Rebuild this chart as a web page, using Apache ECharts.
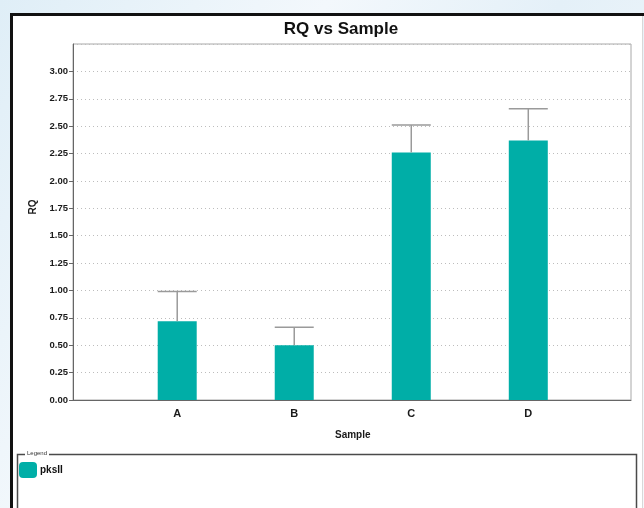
<!DOCTYPE html>
<html>
<head>
<meta charset="utf-8">
<script src="https://cdn.jsdelivr.net/npm/echarts@6/dist/echarts.min.js"></script>
<style>
html,body{margin:0;padding:0;}
body{width:644px;height:508px;background:linear-gradient(120deg,#dfeef7 0%,#f3f8fc 35%,#e4f0f8 60%,#f5f9fc 100%);overflow:hidden;}
#c{width:644px;height:508px;}
</style>
</head>
<body>
<div id="c"></div>
<script>
// ---- data ----
const categories = ['A', 'B', 'C', 'D'];
const rqValues = [0.72, 0.50, 2.26, 2.37];
const rqUpper = [0.99, 0.665, 2.51, 2.66];
const seriesName = 'pksII';
const yTickLabels = ['0.00','0.25','0.50','0.75','1.00','1.25','1.50','1.75','2.00','2.25','2.50','2.75','3.00'];

const teal = '#00AEA7';
const bold = {fontFamily: 'Liberation Sans, Arial, sans-serif', fontWeight: 'bold', color: '#1a1a1a'};

const chart = echarts.init(document.getElementById('c'), null, {renderer: 'canvas'});
chart.setOption({
  backgroundColor: 'transparent',
  animation: false,
  title: {
    text: 'RQ vs Sample', left: 336, top: 16, textAlign: 'center',
    textStyle: {fontFamily: 'Liberation Sans, Arial, sans-serif', fontWeight: 'bold', fontSize: 17, color: '#111'}
  },
  legend: {
    data: [seriesName], left: 14, top: 457, itemWidth: 18, itemHeight: 16, icon: 'roundRect', itemGap: 4,
    textStyle: Object.assign({}, bold, {fontSize: 10, color: '#111', padding: [0, 0, 0, -2]})
  },
  graphic: [
    {type: 'rect', z: -10, silent: true, shape: {x: 12, y: 15, width: 630, height: 500}, style: {fill: '#ffffff'}},
    {type: 'line', z: -5, silent: true, shape: {x1: 10, y1: 14.5, x2: 644, y2: 14.5}, style: {stroke: '#111', lineWidth: 3}},
    {type: 'line', z: -5, silent: true, shape: {x1: 11.5, y1: 13, x2: 11.5, y2: 508}, style: {stroke: '#111', lineWidth: 3}},
    {type: 'line', z: -5, silent: true, shape: {x1: 642.5, y1: 16, x2: 642.5, y2: 508}, style: {stroke: '#d8d8d8', lineWidth: 1}},
    {type: 'rect', z: -4, silent: true, shape: {x: 17.5, y: 454.5, width: 619, height: 100}, style: {fill: 'none', stroke: '#4a4a4a', lineWidth: 1.5}},
    {type: 'text', z: -3, silent: true, x: 25, y: 450, style: {text: 'Legend', fontSize: 6, fontFamily: 'Liberation Sans, sans-serif', fill: '#333', backgroundColor: '#fff', padding: [0, 2]}},
    {type: 'text', silent: true, x: 33, y: 207, rotation: Math.PI / 2, style: {text: 'RQ', fontSize: 10, fontFamily: bold.fontFamily, fontWeight: 'bold', fill: '#1a1a1a', align: 'center', verticalAlign: 'middle'}}
  ],
  grid: [
    {left: 73, right: 13, top: 44, bottom: 108, show: true, borderColor: '#a8a8a8', borderWidth: 1, backgroundColor: 'transparent'},
    {left: 118.7, right: 57.2, top: 44, bottom: 108}
  ],
  xAxis: [
    {type: 'value', gridIndex: 0, min: 0, max: 1, axisLine: {show: true, onZero: false, lineStyle: {color: '#666', width: 1}},
      axisTick: {show: false}, axisLabel: {show: false}, splitLine: {show: false}},
    {type: 'category', gridIndex: 1, data: categories, axisLine: {show: false}, axisTick: {show: false},
      axisLabel: Object.assign({}, bold, {fontSize: 11, margin: 8}),
      name: 'Sample', nameLocation: 'middle', nameGap: 30,
      nameTextStyle: Object.assign({}, bold, {fontSize: 10})}
  ],
  yAxis: [
    {type: 'value', gridIndex: 0, min: 0, max: 3.25, interval: 0.25,
      axisLine: {show: true, lineStyle: {color: '#666'}},
      axisTick: {show: true, length: 4, lineStyle: {color: '#666'}},
      axisLabel: Object.assign({}, bold, {fontSize: 9.5, margin: 5, showMaxLabel: false,
        formatter: function (v) { const i = Math.round(v / 0.25); return (Math.abs(v - i * 0.25) < 1e-6 && i < yTickLabels.length) ? yTickLabels[i] : ''; }}),
      splitLine: {show: true, lineStyle: {color: '#bdbdbd', type: [1, 3], width: 1}}},
    {type: 'value', gridIndex: 1, min: 0, max: 3.25, interval: 0.25, show: false, splitLine: {show: false}}
  ],
  series: [
    {name: seriesName, type: 'bar', xAxisIndex: 1, yAxisIndex: 1, data: rqValues, barWidth: 39,
      itemStyle: {color: teal}, z: 2},
    {name: 'err', type: 'custom', xAxisIndex: 1, yAxisIndex: 1, z: 3, silent: true,
      data: categories.map((c, i) => [i, rqValues[i], rqUpper[i]]),
      renderItem: function (params, api) {
        const base = api.coord([api.value(0), api.value(1)]);
        const top = api.coord([api.value(0), api.value(2)]);
        const hw = 19.5;
        const st = {stroke: '#9a9a9a', lineWidth: 1.5};
        return {type: 'group', children: [
          {type: 'line', shape: {x1: base[0], y1: base[1], x2: top[0], y2: top[1]}, style: st},
          {type: 'line', shape: {x1: top[0] - hw, y1: top[1], x2: top[0] + hw, y2: top[1]}, style: st}
        ]};
      }}
  ]
});
</script>
</body>
</html>
